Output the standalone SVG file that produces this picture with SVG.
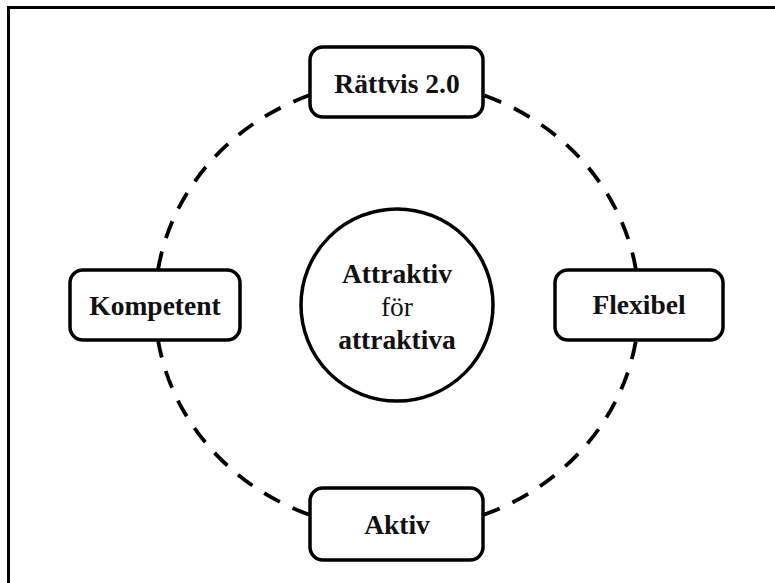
<svg xmlns="http://www.w3.org/2000/svg" width="775" height="583" viewBox="0 0 775 583">
<style>
.box{fill:#fff;stroke:#000;stroke-width:3.5}
.lbl{font-family:"Liberation Serif","Times New Roman",serif;font-weight:bold;font-size:27.5px;fill:#111;text-anchor:middle}
.reg{font-family:"Liberation Serif","Times New Roman",serif;font-weight:normal}
.arc{fill:none;stroke:#000;stroke-width:3.8;stroke-dasharray:18 14}
</style>
<rect width="775" height="583" fill="#fff"/>
<path d="M8.5,583 V7.5 H775" fill="none" stroke="#000" stroke-width="3"/>
<g id="connectors">
<path class="arc" d="M310,95 A242,225 0 0 0 158,270"/>
<path class="arc" d="M158,340 A242,225 0 0 0 310,515"/>
<path class="arc" d="M483,515 A242,225 0 0 0 636,340"/>
<path class="arc" d="M636,270 A242,225 0 0 0 483,95"/>
</g>
<g id="center">
<circle cx="397" cy="305" r="96" fill="#fff" stroke="#000" stroke-width="3.5"/>
<text class="lbl" x="397" y="283">Attraktiv</text>
<text class="lbl reg" x="397" y="316">för</text>
<text class="lbl" x="397" y="349">attraktiva</text>
</g>
<g id="rattvis">
<rect class="box" x="310" y="47" width="173" height="70" rx="13"/>
<text class="lbl" x="397" y="93">Rättvis 2.0</text>
</g>
<g id="kompetent">
<rect class="box" x="70" y="270" width="170" height="70" rx="13"/>
<text class="lbl" x="155" y="315">Kompetent</text>
</g>
<g id="flexibel">
<rect class="box" x="555" y="270" width="168" height="70" rx="13"/>
<text class="lbl" x="639" y="314">Flexibel</text>
</g>
<g id="aktiv">
<rect class="box" x="310" y="488" width="173" height="72" rx="13"/>
<text class="lbl" x="397" y="534">Aktiv</text>
</g>
</svg>
